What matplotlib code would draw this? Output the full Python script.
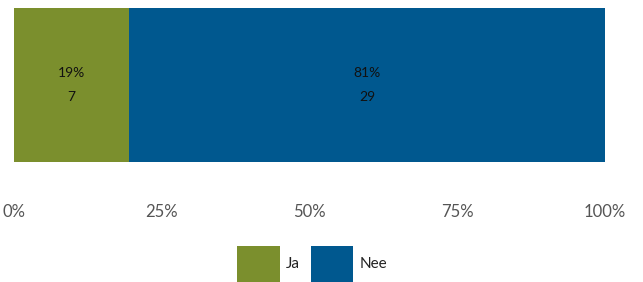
import numpy as np
import matplotlib.pyplot as plt

plt.rcParams['font.family'] = ['Lato', 'DejaVu Sans']

# data
categories = ['Ja', 'Nee']
counts = [7, 29]
colors = ['#7b8f2d', '#00588f']
ticks = [0, 25, 50, 75, 100]
tick_labels = ['0%', '25%', '50%', '75%', '100%']

total = sum(counts)
pct = [c / total * 100 for c in counts]

fig = plt.figure(figsize=(6.43, 2.82), dpi=100)
ax = fig.add_axes([14 / 643, 1 - 162 / 282, (605 - 14) / 643, (162 - 8) / 282])

left = 0
for cat, p, c, col in zip(categories, pct, counts, colors):
    ax.barh(0, p, left=left, height=1, color=col, label=cat)
    mid = left + p / 2
    ax.annotate('%d%%' % round(p), (mid, 0), xytext=(0, 8.5), textcoords='offset points',
                ha='center', va='center', fontsize=10, color='#111111')
    ax.annotate('%d' % c, (mid, 0), xytext=(0, -8.5), textcoords='offset points',
                ha='center', va='center', fontsize=10, color='#111111')
    left += p

ax.set_xlim(0, 100)
ax.set_ylim(-0.5, 0.5)
ax.set_xticks(ticks)
ax.set_xticklabels(tick_labels, fontsize=12, color='#555555')
ax.tick_params(axis='x', length=0, pad=30)
ax.set_yticks([])
for s in ax.spines.values():
    s.set_visible(False)

fig.legend(loc='upper center', bbox_to_anchor=(312 / 643, 1 - 232 / 282), ncol=2,
           frameon=False, fontsize=11, handlelength=2.8, handleheight=3.3,
           handletextpad=0.4, columnspacing=0.7, labelcolor='#222222')

fig.savefig('out.png', dpi=100)
